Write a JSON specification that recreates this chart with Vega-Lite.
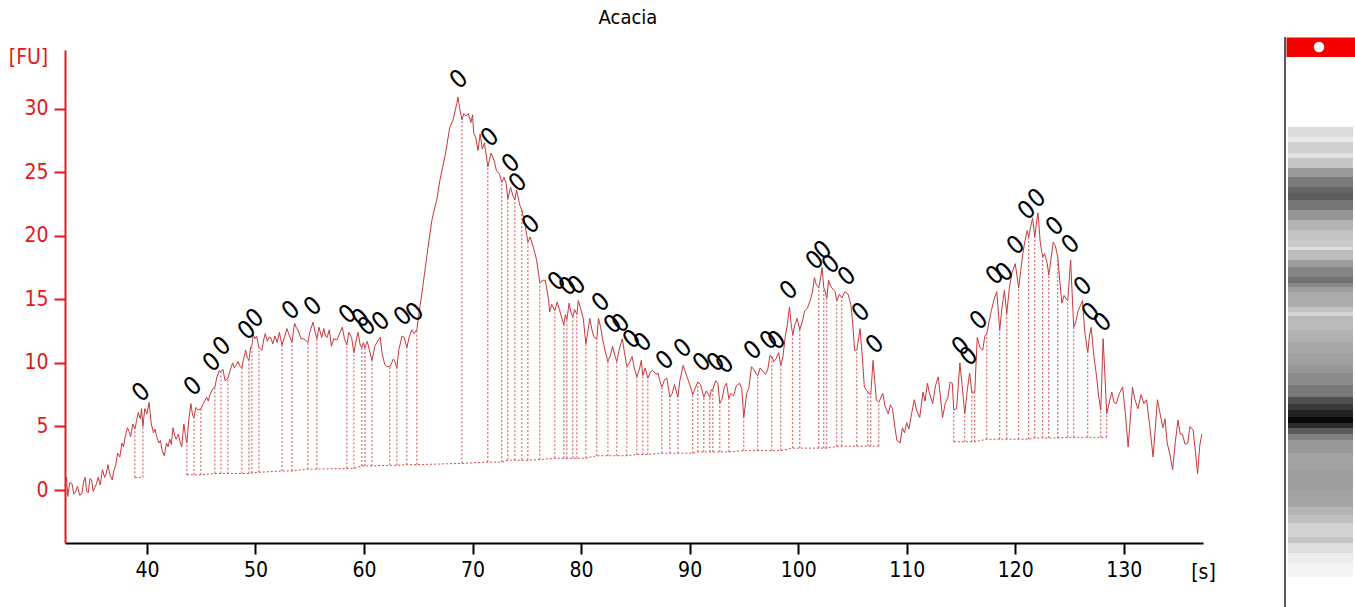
{
"$schema": "https://vega.github.io/schema/vega-lite/v6.json",
"padding": {"left": 8, "top": 8, "right": 0, "bottom": 0},
"background": "white",
"config": {
  "view": {"stroke": null},
  "axisX": {"domainColor": "black", "domainWidth": 2, "tickColor": "black", "tickWidth": 2, "tickSize": 11, "labelColor": "black", "labelFont": "DejaVu Sans Condensed, DejaVu Sans", "labelFontSize": 21, "labelPadding": 5, "tickCount": 10, "grid": false, "titleFont": "DejaVu Sans Condensed, DejaVu Sans", "titleFontSize": 21, "titleFontWeight": "normal", "titleColor": "black", "titleX": 1138, "titleY": 29, "titleAlign": "center", "titleBaseline": "middle"},
  "axisY": {"domainColor": "#e8161b", "domainWidth": 2, "tickColor": "#e8161b", "tickWidth": 2, "tickSize": 11, "labelColor": "#e8161b", "labelFont": "DejaVu Sans Condensed, DejaVu Sans", "labelFontSize": 21, "labelPadding": 6, "tickCount": 7, "grid": false, "titleFont": "DejaVu Sans Condensed, DejaVu Sans", "titleFontSize": 21, "titleFontWeight": "normal", "titleColor": "#e8161b", "titleAngle": 0, "titleX": -37, "titleY": 7, "titleAlign": "center", "titleBaseline": "middle"}
},
"datasets": {
"signal": [
{"t":32.45,"fu":0.3},{"t":32.6,"fu":1.0},{"t":32.7,"fu":-0.5},{"t":32.9,"fu":0.6},{"t":33.1,"fu":0.5},{"t":33.25,"fu":-0.3},{"t":33.4,"fu":-0.2},{"t":33.6,"fu":0.3},{"t":33.8,"fu":-0.4},{"t":34.0,"fu":-0.3},{"t":34.15,"fu":0.6},{"t":34.3,"fu":1.0},{"t":34.45,"fu":-0.1},{"t":34.6,"fu":-0.2},{"t":34.75,"fu":0.9},{"t":34.9,"fu":0.8},{"t":35.05,"fu":-0.1},{"t":35.2,"fu":0.2},{"t":35.35,"fu":0.5},{"t":35.5,"fu":1.0},{"t":35.7,"fu":0.4},{"t":35.9,"fu":1.6},{"t":36.1,"fu":1.0},{"t":36.25,"fu":1.3},{"t":36.4,"fu":2.0},{"t":36.6,"fu":1.2},{"t":36.8,"fu":0.8},{"t":36.95,"fu":1.5},{"t":37.1,"fu":1.9},{"t":37.3,"fu":2.9},{"t":37.5,"fu":2.6},{"t":37.7,"fu":3.7},{"t":37.85,"fu":3.4},{"t":38.0,"fu":4.2},{"t":38.2,"fu":4.9},{"t":38.35,"fu":4.6},{"t":38.5,"fu":4.2},{"t":38.7,"fu":5.2},{"t":38.89,"fu":4.8},{"t":39.05,"fu":5.5},{"t":39.2,"fu":6.1},{"t":39.4,"fu":5.6},{"t":39.5,"fu":6.4},{"t":39.63,"fu":5.0},{"t":39.8,"fu":6.4},{"t":40.0,"fu":6.0},{"t":40.2,"fu":6.9},{"t":40.4,"fu":5.2},{"t":40.6,"fu":4.5},{"t":40.75,"fu":4.8},{"t":40.9,"fu":4.2},{"t":41.1,"fu":3.7},{"t":41.25,"fu":3.9},{"t":41.4,"fu":3.1},{"t":41.6,"fu":2.7},{"t":41.8,"fu":3.7},{"t":41.95,"fu":3.4},{"t":42.1,"fu":4.0},{"t":42.25,"fu":3.6},{"t":42.4,"fu":4.9},{"t":42.55,"fu":4.3},{"t":42.7,"fu":4.0},{"t":42.9,"fu":4.4},{"t":43.05,"fu":3.8},{"t":43.2,"fu":3.4},{"t":43.4,"fu":5.2},{"t":43.55,"fu":4.3},{"t":43.68,"fu":3.7},{"t":43.85,"fu":5.5},{"t":44.05,"fu":6.8},{"t":44.2,"fu":5.9},{"t":44.33,"fu":5.7},{"t":44.5,"fu":6.5},{"t":44.7,"fu":6.3},{"t":44.97,"fu":6.4},{"t":45.2,"fu":6.8},{"t":45.5,"fu":7.3},{"t":45.65,"fu":7.0},{"t":45.8,"fu":7.5},{"t":46.1,"fu":8.0},{"t":46.26,"fu":8.1},{"t":46.45,"fu":8.9},{"t":46.65,"fu":9.4},{"t":46.82,"fu":9.3},{"t":47.0,"fu":9.5},{"t":47.2,"fu":8.6},{"t":47.46,"fu":8.8},{"t":47.7,"fu":9.5},{"t":47.9,"fu":10.0},{"t":48.05,"fu":9.6},{"t":48.2,"fu":9.8},{"t":48.4,"fu":10.1},{"t":48.6,"fu":9.7},{"t":48.75,"fu":9.6},{"t":48.9,"fu":10.3},{"t":49.1,"fu":11.0},{"t":49.25,"fu":10.4},{"t":49.4,"fu":10.2},{"t":49.55,"fu":11.2},{"t":49.67,"fu":11.4},{"t":49.8,"fu":12.2},{"t":49.95,"fu":11.9},{"t":50.1,"fu":12.1},{"t":50.32,"fu":11.2},{"t":50.6,"fu":11.0},{"t":50.75,"fu":11.8},{"t":50.9,"fu":12.3},{"t":51.1,"fu":11.7},{"t":51.25,"fu":12.0},{"t":51.4,"fu":12.0},{"t":51.6,"fu":11.5},{"t":51.8,"fu":12.1},{"t":52.0,"fu":11.6},{"t":52.2,"fu":12.4},{"t":52.44,"fu":11.4},{"t":52.7,"fu":12.1},{"t":52.9,"fu":12.7},{"t":53.1,"fu":12.2},{"t":53.36,"fu":11.6},{"t":53.6,"fu":13.1},{"t":53.75,"fu":12.8},{"t":53.9,"fu":12.6},{"t":54.2,"fu":11.9},{"t":54.4,"fu":11.9},{"t":54.6,"fu":11.8},{"t":54.83,"fu":11.6},{"t":55.0,"fu":12.4},{"t":55.3,"fu":13.2},{"t":55.5,"fu":12.4},{"t":55.66,"fu":11.9},{"t":55.85,"fu":12.8},{"t":56.1,"fu":12.0},{"t":56.3,"fu":12.7},{"t":56.45,"fu":12.1},{"t":56.6,"fu":12.0},{"t":56.8,"fu":12.6},{"t":57.0,"fu":11.3},{"t":57.2,"fu":11.9},{"t":57.5,"fu":11.8},{"t":57.8,"fu":12.4},{"t":58.0,"fu":12.8},{"t":58.2,"fu":11.9},{"t":58.42,"fu":11.4},{"t":58.6,"fu":12.4},{"t":58.85,"fu":12.0},{"t":59.07,"fu":10.8},{"t":59.3,"fu":11.9},{"t":59.45,"fu":12.4},{"t":59.65,"fu":11.4},{"t":59.8,"fu":11.2},{"t":59.95,"fu":11.6},{"t":60.08,"fu":11.2},{"t":60.3,"fu":11.7},{"t":60.5,"fu":11.0},{"t":60.73,"fu":10.2},{"t":61.0,"fu":11.3},{"t":61.3,"fu":11.8},{"t":61.5,"fu":12.0},{"t":61.65,"fu":10.8},{"t":61.9,"fu":9.9},{"t":62.1,"fu":9.7},{"t":62.38,"fu":9.7},{"t":62.55,"fu":10.0},{"t":62.7,"fu":10.3},{"t":62.85,"fu":10.1},{"t":63.03,"fu":9.6},{"t":63.2,"fu":11.0},{"t":63.5,"fu":12.1},{"t":63.7,"fu":12.0},{"t":63.95,"fu":11.2},{"t":64.15,"fu":12.0},{"t":64.4,"fu":12.6},{"t":64.6,"fu":12.3},{"t":64.87,"fu":12.6},{"t":65.15,"fu":14.4},{"t":65.4,"fu":15.9},{"t":65.9,"fu":19.1},{"t":66.25,"fu":21.2},{"t":66.4,"fu":21.8},{"t":66.7,"fu":22.8},{"t":67.0,"fu":24.4},{"t":67.45,"fu":26.2},{"t":67.9,"fu":28.5},{"t":68.2,"fu":29.1},{"t":68.55,"fu":30.4},{"t":68.65,"fu":30.9},{"t":68.8,"fu":30.1},{"t":69.02,"fu":29.1},{"t":69.2,"fu":29.6},{"t":69.4,"fu":29.4},{"t":69.6,"fu":29.6},{"t":69.85,"fu":28.9},{"t":70.0,"fu":29.5},{"t":70.1,"fu":28.1},{"t":70.3,"fu":27.7},{"t":70.5,"fu":26.7},{"t":70.7,"fu":28.0},{"t":70.9,"fu":26.8},{"t":71.1,"fu":27.3},{"t":71.41,"fu":25.4},{"t":71.7,"fu":26.5},{"t":72.0,"fu":25.9},{"t":72.2,"fu":25.1},{"t":72.45,"fu":24.9},{"t":72.7,"fu":24.2},{"t":72.9,"fu":24.6},{"t":73.1,"fu":24.1},{"t":73.25,"fu":22.9},{"t":73.5,"fu":23.8},{"t":73.7,"fu":23.2},{"t":73.9,"fu":22.8},{"t":74.05,"fu":23.6},{"t":74.2,"fu":23.0},{"t":74.35,"fu":22.4},{"t":74.54,"fu":22.0},{"t":74.8,"fu":21.0},{"t":75.1,"fu":19.5},{"t":75.3,"fu":19.9},{"t":75.6,"fu":19.1},{"t":75.9,"fu":18.1},{"t":76.2,"fu":16.3},{"t":76.5,"fu":16.5},{"t":76.7,"fu":16.5},{"t":77.0,"fu":15.0},{"t":77.1,"fu":14.0},{"t":77.3,"fu":14.6},{"t":77.58,"fu":14.1},{"t":77.8,"fu":14.8},{"t":78.0,"fu":14.2},{"t":78.2,"fu":13.6},{"t":78.41,"fu":13.0},{"t":78.55,"fu":13.8},{"t":78.69,"fu":13.4},{"t":78.9,"fu":14.7},{"t":79.05,"fu":14.0},{"t":79.24,"fu":13.6},{"t":79.4,"fu":14.2},{"t":79.61,"fu":13.8},{"t":79.75,"fu":14.9},{"t":79.95,"fu":14.3},{"t":80.2,"fu":13.5},{"t":80.44,"fu":11.5},{"t":80.65,"fu":12.6},{"t":80.8,"fu":13.5},{"t":81.0,"fu":12.6},{"t":81.2,"fu":12.0},{"t":81.45,"fu":11.9},{"t":81.6,"fu":13.5},{"t":81.8,"fu":12.8},{"t":82.0,"fu":11.8},{"t":82.2,"fu":11.0},{"t":82.47,"fu":10.1},{"t":82.7,"fu":10.6},{"t":82.9,"fu":11.3},{"t":83.1,"fu":10.6},{"t":83.29,"fu":10.1},{"t":83.5,"fu":11.0},{"t":83.8,"fu":11.9},{"t":84.0,"fu":10.8},{"t":84.22,"fu":9.7},{"t":84.45,"fu":10.0},{"t":84.7,"fu":10.5},{"t":84.9,"fu":9.6},{"t":85.14,"fu":8.9},{"t":85.4,"fu":9.6},{"t":85.55,"fu":10.2},{"t":85.69,"fu":9.0},{"t":85.9,"fu":9.6},{"t":86.15,"fu":8.8},{"t":86.4,"fu":9.3},{"t":86.6,"fu":9.4},{"t":86.9,"fu":9.1},{"t":87.1,"fu":9.2},{"t":87.25,"fu":8.6},{"t":87.44,"fu":8.1},{"t":87.7,"fu":8.7},{"t":87.9,"fu":8.8},{"t":88.18,"fu":7.3},{"t":88.4,"fu":7.6},{"t":88.6,"fu":8.3},{"t":88.92,"fu":7.3},{"t":89.1,"fu":8.6},{"t":89.4,"fu":9.8},{"t":89.6,"fu":9.3},{"t":89.8,"fu":8.8},{"t":90.05,"fu":8.2},{"t":90.29,"fu":7.5},{"t":90.5,"fu":8.0},{"t":90.76,"fu":8.5},{"t":91.0,"fu":8.3},{"t":91.31,"fu":7.3},{"t":91.55,"fu":7.8},{"t":91.86,"fu":7.3},{"t":92.0,"fu":7.9},{"t":92.14,"fu":7.9},{"t":92.4,"fu":8.6},{"t":92.6,"fu":8.4},{"t":92.78,"fu":6.8},{"t":93.0,"fu":7.2},{"t":93.2,"fu":8.1},{"t":93.4,"fu":8.4},{"t":93.61,"fu":7.2},{"t":93.8,"fu":7.6},{"t":94.05,"fu":7.4},{"t":94.3,"fu":8.2},{"t":94.6,"fu":8.4},{"t":94.8,"fu":8.0},{"t":94.99,"fu":5.7},{"t":95.25,"fu":7.6},{"t":95.45,"fu":8.0},{"t":95.7,"fu":9.7},{"t":95.9,"fu":9.5},{"t":96.1,"fu":9.2},{"t":96.28,"fu":9.0},{"t":96.5,"fu":9.6},{"t":96.7,"fu":9.4},{"t":97.0,"fu":9.1},{"t":97.2,"fu":9.5},{"t":97.4,"fu":10.6},{"t":97.57,"fu":10.5},{"t":97.75,"fu":10.1},{"t":97.95,"fu":10.3},{"t":98.2,"fu":10.8},{"t":98.4,"fu":9.8},{"t":98.6,"fu":10.5},{"t":98.8,"fu":12.0},{"t":99.0,"fu":13.0},{"t":99.2,"fu":14.4},{"t":99.35,"fu":13.1},{"t":99.5,"fu":12.2},{"t":99.7,"fu":13.0},{"t":99.9,"fu":13.5},{"t":100.15,"fu":12.6},{"t":100.4,"fu":13.3},{"t":100.6,"fu":14.1},{"t":100.85,"fu":14.3},{"t":101.1,"fu":14.9},{"t":101.3,"fu":15.5},{"t":101.5,"fu":16.7},{"t":101.65,"fu":16.2},{"t":101.9,"fu":15.9},{"t":102.05,"fu":16.6},{"t":102.2,"fu":17.5},{"t":102.36,"fu":15.9},{"t":102.5,"fu":15.6},{"t":102.64,"fu":15.1},{"t":102.8,"fu":16.5},{"t":103.0,"fu":16.0},{"t":103.2,"fu":15.8},{"t":103.4,"fu":15.6},{"t":103.56,"fu":14.9},{"t":103.8,"fu":15.4},{"t":104.02,"fu":15.1},{"t":104.3,"fu":15.6},{"t":104.6,"fu":15.4},{"t":104.85,"fu":14.6},{"t":105.0,"fu":13.4},{"t":105.2,"fu":11.0},{"t":105.4,"fu":11.0},{"t":105.7,"fu":12.7},{"t":105.9,"fu":10.6},{"t":106.1,"fu":8.1},{"t":106.42,"fu":7.7},{"t":106.69,"fu":7.5},{"t":106.9,"fu":10.2},{"t":107.2,"fu":7.1},{"t":107.43,"fu":6.9},{"t":107.8,"fu":7.6},{"t":108.0,"fu":6.6},{"t":108.3,"fu":6.0},{"t":108.5,"fu":6.7},{"t":108.7,"fu":6.4},{"t":108.9,"fu":5.0},{"t":109.1,"fu":3.9},{"t":109.4,"fu":3.7},{"t":109.6,"fu":4.9},{"t":109.8,"fu":4.5},{"t":110.0,"fu":5.3},{"t":110.2,"fu":4.8},{"t":110.45,"fu":6.0},{"t":110.7,"fu":7.1},{"t":110.9,"fu":6.3},{"t":111.2,"fu":5.7},{"t":111.5,"fu":7.7},{"t":111.7,"fu":7.0},{"t":111.9,"fu":8.4},{"t":112.1,"fu":7.6},{"t":112.4,"fu":6.8},{"t":112.65,"fu":8.2},{"t":112.9,"fu":8.9},{"t":113.1,"fu":7.4},{"t":113.3,"fu":5.7},{"t":113.55,"fu":6.8},{"t":113.8,"fu":7.3},{"t":114.0,"fu":8.5},{"t":114.2,"fu":8.4},{"t":114.34,"fu":6.3},{"t":114.6,"fu":6.4},{"t":114.9,"fu":10.0},{"t":115.1,"fu":8.3},{"t":115.35,"fu":6.0},{"t":115.6,"fu":8.0},{"t":115.8,"fu":9.2},{"t":116.0,"fu":7.7},{"t":116.27,"fu":7.7},{"t":116.5,"fu":12.0},{"t":116.75,"fu":11.2},{"t":117.0,"fu":11.0},{"t":117.2,"fu":12.1},{"t":117.38,"fu":12.3},{"t":117.6,"fu":13.3},{"t":117.8,"fu":14.1},{"t":118.05,"fu":15.0},{"t":118.3,"fu":15.6},{"t":118.57,"fu":12.6},{"t":118.8,"fu":14.5},{"t":119.0,"fu":15.7},{"t":119.22,"fu":13.9},{"t":119.45,"fu":15.8},{"t":119.7,"fu":17.1},{"t":120.0,"fu":17.8},{"t":120.32,"fu":15.9},{"t":120.5,"fu":17.2},{"t":120.7,"fu":18.6},{"t":120.9,"fu":19.6},{"t":121.1,"fu":20.4},{"t":121.24,"fu":19.9},{"t":121.4,"fu":20.6},{"t":121.6,"fu":21.4},{"t":121.8,"fu":19.9},{"t":122.0,"fu":21.3},{"t":122.1,"fu":21.8},{"t":122.3,"fu":19.5},{"t":122.53,"fu":18.3},{"t":122.7,"fu":18.6},{"t":122.95,"fu":17.8},{"t":123.09,"fu":16.9},{"t":123.3,"fu":18.2},{"t":123.5,"fu":19.5},{"t":123.7,"fu":19.2},{"t":123.92,"fu":18.3},{"t":124.1,"fu":16.5},{"t":124.3,"fu":14.7},{"t":124.5,"fu":15.3},{"t":124.7,"fu":15.0},{"t":124.84,"fu":14.9},{"t":125.1,"fu":18.1},{"t":125.39,"fu":12.8},{"t":125.6,"fu":13.3},{"t":125.8,"fu":14.1},{"t":126.0,"fu":14.5},{"t":126.2,"fu":14.9},{"t":126.4,"fu":12.5},{"t":126.68,"fu":10.8},{"t":126.85,"fu":12.2},{"t":127.0,"fu":12.8},{"t":127.25,"fu":10.5},{"t":127.5,"fu":8.9},{"t":127.7,"fu":7.3},{"t":127.88,"fu":6.3},{"t":128.1,"fu":11.9},{"t":128.43,"fu":6.0},{"t":128.7,"fu":7.0},{"t":128.9,"fu":7.7},{"t":129.1,"fu":6.9},{"t":129.3,"fu":6.8},{"t":129.6,"fu":7.6},{"t":129.9,"fu":8.1},{"t":130.15,"fu":6.0},{"t":130.4,"fu":3.4},{"t":130.6,"fu":5.5},{"t":130.8,"fu":8.1},{"t":131.0,"fu":7.2},{"t":131.3,"fu":6.4},{"t":131.6,"fu":7.5},{"t":131.85,"fu":6.8},{"t":132.1,"fu":7.1},{"t":132.4,"fu":5.0},{"t":132.7,"fu":2.6},{"t":132.9,"fu":4.8},{"t":133.1,"fu":7.1},{"t":133.35,"fu":6.0},{"t":133.6,"fu":4.9},{"t":133.8,"fu":5.6},{"t":134.0,"fu":3.7},{"t":134.25,"fu":2.8},{"t":134.5,"fu":1.6},{"t":134.75,"fu":3.8},{"t":135.0,"fu":5.5},{"t":135.2,"fu":4.4},{"t":135.4,"fu":4.4},{"t":135.65,"fu":3.6},{"t":135.9,"fu":3.7},{"t":136.1,"fu":5.0},{"t":136.4,"fu":4.7},{"t":136.6,"fu":3.0},{"t":136.8,"fu":1.3},{"t":137.0,"fu":3.5},{"t":137.2,"fu":4.4}
],
"bounds": [
{"t":38.89,"top":4.8,"bot":1.0,"seg":"A"},{"t":39.63,"top":5.0,"bot":1.0,"seg":"A"},
{"t":43.68,"top":3.7,"bot":1.2,"seg":"B"},{"t":44.33,"top":5.7,"bot":1.2,"seg":"B"},{"t":44.97,"top":6.4,"bot":1.2,"seg":"B"},{"t":46.26,"top":8.1,"bot":1.3,"seg":"B"},{"t":46.82,"top":9.3,"bot":1.3,"seg":"B"},{"t":47.46,"top":8.8,"bot":1.3,"seg":"B"},{"t":48.75,"top":9.6,"bot":1.3,"seg":"B"},{"t":49.4,"top":10.2,"bot":1.3,"seg":"B"},{"t":49.67,"top":11.4,"bot":1.35,"seg":"B"},{"t":50.32,"top":11.2,"bot":1.4,"seg":"B"},{"t":52.44,"top":11.4,"bot":1.5,"seg":"B"},{"t":53.36,"top":11.6,"bot":1.5,"seg":"B"},{"t":54.83,"top":11.6,"bot":1.65,"seg":"B"},{"t":55.66,"top":11.9,"bot":1.65,"seg":"B"},{"t":58.42,"top":11.4,"bot":1.7,"seg":"B"},{"t":59.07,"top":10.8,"bot":1.7,"seg":"B"},{"t":59.8,"top":11.2,"bot":1.9,"seg":"B"},{"t":60.08,"top":11.2,"bot":1.9,"seg":"B"},{"t":60.73,"top":10.2,"bot":1.9,"seg":"B"},{"t":62.38,"top":9.7,"bot":1.95,"seg":"B"},{"t":63.03,"top":9.6,"bot":1.95,"seg":"B"},{"t":63.95,"top":11.2,"bot":2.0,"seg":"B"},{"t":64.87,"top":12.6,"bot":2.0,"seg":"B"},{"t":69.02,"top":29.1,"bot":2.1,"seg":"B"},{"t":71.41,"top":25.4,"bot":2.2,"seg":"B"},{"t":72.7,"top":24.2,"bot":2.2,"seg":"B"},{"t":73.25,"top":22.9,"bot":2.35,"seg":"B"},{"t":73.9,"top":22.8,"bot":2.35,"seg":"B"},{"t":74.54,"top":22.0,"bot":2.35,"seg":"B"},{"t":75.1,"top":19.5,"bot":2.35,"seg":"B"},{"t":76.2,"top":16.3,"bot":2.4,"seg":"B"},{"t":77.58,"top":14.1,"bot":2.5,"seg":"B"},{"t":78.41,"top":13.0,"bot":2.5,"seg":"B"},{"t":78.69,"top":13.4,"bot":2.5,"seg":"B"},{"t":79.24,"top":13.6,"bot":2.5,"seg":"B"},{"t":79.61,"top":13.8,"bot":2.5,"seg":"B"},{"t":80.44,"top":11.5,"bot":2.5,"seg":"B"},{"t":81.45,"top":11.9,"bot":2.7,"seg":"B"},{"t":82.47,"top":10.1,"bot":2.7,"seg":"B"},{"t":83.29,"top":10.1,"bot":2.7,"seg":"B"},{"t":84.22,"top":9.7,"bot":2.7,"seg":"B"},{"t":85.14,"top":8.9,"bot":2.8,"seg":"B"},{"t":85.69,"top":9.0,"bot":2.8,"seg":"B"},{"t":86.15,"top":8.8,"bot":2.8,"seg":"B"},{"t":87.44,"top":8.1,"bot":2.9,"seg":"B"},{"t":88.18,"top":7.3,"bot":2.9,"seg":"B"},{"t":88.92,"top":7.3,"bot":2.9,"seg":"B"},{"t":90.29,"top":7.5,"bot":2.9,"seg":"B"},{"t":90.76,"top":8.5,"bot":3.0,"seg":"B"},{"t":91.31,"top":7.3,"bot":3.0,"seg":"B"},{"t":91.86,"top":7.3,"bot":3.0,"seg":"B"},{"t":92.14,"top":7.9,"bot":3.0,"seg":"B"},{"t":92.78,"top":6.8,"bot":3.0,"seg":"B"},{"t":93.61,"top":7.2,"bot":3.0,"seg":"B"},{"t":94.99,"top":5.7,"bot":3.1,"seg":"B"},{"t":96.28,"top":9.0,"bot":3.1,"seg":"B"},{"t":97.57,"top":10.5,"bot":3.1,"seg":"B"},{"t":98.4,"top":9.8,"bot":3.1,"seg":"B"},{"t":99.5,"top":12.2,"bot":3.3,"seg":"B"},{"t":100.15,"top":12.6,"bot":3.3,"seg":"B"},{"t":101.9,"top":15.9,"bot":3.3,"seg":"B"},{"t":102.36,"top":15.9,"bot":3.3,"seg":"B"},{"t":102.64,"top":15.1,"bot":3.3,"seg":"B"},{"t":103.56,"top":14.9,"bot":3.45,"seg":"B"},{"t":104.02,"top":15.1,"bot":3.45,"seg":"B"},{"t":105.4,"top":11.0,"bot":3.45,"seg":"B"},{"t":106.42,"top":7.7,"bot":3.45,"seg":"B"},{"t":106.69,"top":7.5,"bot":3.45,"seg":"B"},{"t":107.43,"top":6.9,"bot":3.45,"seg":"B"},
{"t":114.34,"top":6.3,"bot":3.8,"seg":"C"},{"t":115.35,"top":6.0,"bot":3.8,"seg":"C"},{"t":116.0,"top":7.7,"bot":3.8,"seg":"C"},{"t":116.27,"top":7.7,"bot":3.8,"seg":"C"},{"t":117.38,"top":12.3,"bot":4.0,"seg":"C"},{"t":118.57,"top":12.6,"bot":4.0,"seg":"C"},{"t":119.22,"top":13.9,"bot":4.0,"seg":"C"},{"t":120.32,"top":15.9,"bot":4.0,"seg":"C"},{"t":121.24,"top":19.9,"bot":4.0,"seg":"C"},{"t":121.8,"top":19.9,"bot":4.1,"seg":"C"},{"t":122.53,"top":18.3,"bot":4.1,"seg":"C"},{"t":123.09,"top":16.9,"bot":4.1,"seg":"C"},{"t":123.92,"top":18.3,"bot":4.1,"seg":"C"},{"t":124.84,"top":14.9,"bot":4.15,"seg":"C"},{"t":125.39,"top":12.8,"bot":4.15,"seg":"C"},{"t":126.68,"top":10.8,"bot":4.15,"seg":"C"},{"t":127.88,"top":6.3,"bot":4.15,"seg":"C"},{"t":128.43,"top":6.0,"bot":4.15,"seg":"C"}
],
"peaks": [
{"t":39.45,"fu":7.7},{"t":44.24,"fu":8.17},{"t":45.99,"fu":10.05},{"t":46.91,"fu":11.31},{"t":49.21,"fu":12.57},{"t":49.95,"fu":13.51},{"t":53.26,"fu":14.14},{"t":55.29,"fu":14.45},{"t":58.52,"fu":13.83},{"t":59.71,"fu":13.51},{"t":60.27,"fu":12.88},{"t":61.55,"fu":13.28},{"t":63.58,"fu":13.67},{"t":64.69,"fu":13.98},{"t":68.74,"fu":32.29},{"t":71.6,"fu":27.73},{"t":73.53,"fu":25.69},{"t":74.17,"fu":24.19},{"t":75.37,"fu":20.9},{"t":77.77,"fu":16.42},{"t":78.78,"fu":16.03},{"t":79.61,"fu":16.1},{"t":81.82,"fu":14.77},{"t":82.93,"fu":13.04},{"t":83.66,"fu":13.12},{"t":84.68,"fu":11.86},{"t":85.69,"fu":11.63},{"t":87.72,"fu":10.21},{"t":89.37,"fu":11.15},{"t":91.12,"fu":10.05},{"t":92.41,"fu":10.05},{"t":93.24,"fu":9.9},{"t":95.82,"fu":11.0},{"t":97.3,"fu":11.78},{"t":98.03,"fu":11.78},{"t":99.14,"fu":15.71},{"t":101.53,"fu":18.07},{"t":102.27,"fu":18.85},{"t":103.0,"fu":17.75},{"t":104.48,"fu":16.81},{"t":105.77,"fu":13.98},{"t":107.06,"fu":11.47},{"t":114.98,"fu":11.31},{"t":115.72,"fu":10.53},{"t":116.64,"fu":13.35},{"t":118.11,"fu":16.89},{"t":119.03,"fu":17.13},{"t":120.05,"fu":19.25},{"t":121.06,"fu":22.0},{"t":121.98,"fu":22.94},{"t":123.64,"fu":20.74},{"t":125.11,"fu":19.32},{"t":126.22,"fu":16.03},{"t":126.96,"fu":13.98},{"t":128.06,"fu":13.2}
],
"gel": [
{"from":15.79,"to":17.54,"shade":"#dcdcdc"},{"from":17.54,"to":18.42,"shade":"#e9e9e9"},{"from":18.42,"to":20.35,"shade":"#cfcfcf"},{"from":20.35,"to":21.23,"shade":"#e2e2e2"},{"from":21.23,"to":22.98,"shade":"#c6c6c6"},{"from":22.98,"to":24.56,"shade":"#9a9a9a"},{"from":24.56,"to":26.32,"shade":"#7a7a7a"},{"from":26.32,"to":27.37,"shade":"#666666"},{"from":27.37,"to":28.6,"shade":"#5e5e5e"},{"from":28.6,"to":30.35,"shade":"#747474"},{"from":30.35,"to":32.11,"shade":"#959595"},{"from":32.11,"to":33.86,"shade":"#b4b4b4"},{"from":33.86,"to":35.61,"shade":"#c4c4c4"},{"from":35.61,"to":36.84,"shade":"#cbcbcb"},{"from":36.84,"to":37.37,"shade":"#dedede"},{"from":37.37,"to":39.12,"shade":"#bdbdbd"},{"from":39.12,"to":40.35,"shade":"#9c9c9c"},{"from":40.35,"to":42.11,"shade":"#848484"},{"from":42.11,"to":43.16,"shade":"#727272"},{"from":43.16,"to":43.86,"shade":"#888888"},{"from":43.86,"to":44.74,"shade":"#9d9d9d"},{"from":44.74,"to":47.37,"shade":"#ababab"},{"from":47.37,"to":48.25,"shade":"#c2c2c2"},{"from":48.25,"to":48.95,"shade":"#d6d6d6"},{"from":48.95,"to":51.4,"shade":"#bababa"},{"from":51.4,"to":53.51,"shade":"#b2b2b2"},{"from":53.51,"to":55.44,"shade":"#a8a8a8"},{"from":55.44,"to":57.54,"shade":"#a0a0a0"},{"from":57.54,"to":58.95,"shade":"#989898"},{"from":58.95,"to":61.05,"shade":"#8c8c8c"},{"from":61.05,"to":63.16,"shade":"#7a7a7a"},{"from":63.16,"to":64.39,"shade":"#505050"},{"from":64.39,"to":65.44,"shade":"#383838"},{"from":65.44,"to":66.67,"shade":"#222222"},{"from":66.67,"to":67.72,"shade":"#080808"},{"from":67.72,"to":68.6,"shade":"#2a2a2a"},{"from":68.6,"to":69.65,"shade":"#5a5a5a"},{"from":69.65,"to":70.7,"shade":"#808080"},{"from":70.7,"to":72.98,"shade":"#989898"},{"from":72.98,"to":75.96,"shade":"#a2a2a2"},{"from":75.96,"to":79.47,"shade":"#9e9e9e"},{"from":79.47,"to":82.46,"shade":"#a4a4a4"},{"from":82.46,"to":83.86,"shade":"#b4b4b4"},{"from":83.86,"to":85.26,"shade":"#c0c0c0"},{"from":85.26,"to":87.72,"shade":"#d2d2d2"},{"from":87.72,"to":88.77,"shade":"#c4c4c4"},{"from":88.77,"to":90.53,"shade":"#dddddd"},{"from":90.53,"to":92.28,"shade":"#ececec"},{"from":92.28,"to":94.74,"shade":"#f4f4f4"}
],
"marker": [{"from":0.1,"to":3.5,"mid":1.75}]
},
"hconcat": [
{
  "width": 1138,
  "height": 493,
  "title": {"text": "Acacia", "font": "DejaVu Sans Condensed, DejaVu Sans", "fontSize": 20, "fontWeight": "normal", "color": "black", "offset": 18, "dx": -6},
  "layer": [
    {
      "data": {"name": "bounds"},
      "mark": {"type": "line", "color": "#d24a4a", "strokeWidth": 1, "strokeDash": [2, 2]},
      "encoding": {
        "x": {"field": "t", "type": "quantitative", "scale": {"domain": [32.45, 137.3], "nice": false, "zero": false}, "title": "[s]"},
        "y": {"field": "bot", "type": "quantitative", "scale": {"domain": [-4.16, 34.6], "nice": false, "zero": false}, "title": "[FU]"},
        "detail": {"field": "seg", "type": "nominal"}
      }
    },
    {
      "data": {"name": "bounds"},
      "mark": {"type": "rule", "color": "#d24a4a", "strokeWidth": 1, "strokeDash": [2, 2]},
      "encoding": {
        "x": {"field": "t", "type": "quantitative", "scale": {"domain": [32.45, 137.3], "nice": false, "zero": false}, "title": "[s]"},
        "y": {"field": "bot", "type": "quantitative", "scale": {"domain": [-4.16, 34.6], "nice": false, "zero": false}, "title": "[FU]"},
        "y2": {"field": "top"}
      }
    },
    {
      "data": {"name": "signal"},
      "mark": {"type": "line", "color": "#c8373a", "strokeWidth": 1},
      "encoding": {
        "x": {"field": "t", "type": "quantitative", "scale": {"domain": [32.45, 137.3], "nice": false, "zero": false}, "title": "[s]"},
        "y": {"field": "fu", "type": "quantitative", "scale": {"domain": [-4.16, 34.6], "nice": false, "zero": false}, "title": "[FU]"}
      }
    },
    {
      "data": {"name": "peaks"},
      "mark": {"type": "text", "text": "0", "angle": -40, "font": "DejaVu Sans Condensed, DejaVu Sans", "fontSize": 25, "color": "black", "align": "center", "baseline": "middle"},
      "encoding": {
        "x": {"field": "t", "type": "quantitative", "scale": {"domain": [32.45, 137.3], "nice": false, "zero": false}, "title": "[s]"},
        "y": {"field": "fu", "type": "quantitative", "scale": {"domain": [-4.16, 34.6], "nice": false, "zero": false}, "title": "[FU]"}
      }
    }
  ]
},
{
  "width": 70,
  "height": 493,
  "layer": [
    {
      "data": {"name": "gel"},
      "mark": {"type": "rect"},
      "encoding": {
        "x": {"datum": 3, "type": "quantitative", "scale": {"domain": [0, 70], "nice": false, "zero": false}, "axis": null},
        "x2": {"datum": 68},
        "y": {"field": "from", "type": "quantitative", "scale": {"domain": [0, 100], "range": [-13, 557], "nice": false, "zero": false}, "axis": null},
        "y2": {"field": "to"},
        "color": {"field": "shade", "type": "nominal", "scale": null}
      }
    },
    {
      "data": {"name": "marker"},
      "mark": {"type": "rect", "color": "#f20000"},
      "encoding": {
        "x": {"datum": 1.5, "type": "quantitative", "scale": {"domain": [0, 70], "nice": false, "zero": false}, "axis": null},
        "x2": {"datum": 70},
        "y": {"field": "from", "type": "quantitative", "scale": {"domain": [0, 100], "range": [-13, 557], "nice": false, "zero": false}, "axis": null},
        "y2": {"field": "to"}
      }
    },
    {
      "data": {"name": "marker"},
      "mark": {"type": "point", "shape": "circle", "filled": true, "color": "white", "opacity": 1, "size": 110},
      "encoding": {
        "x": {"datum": 34, "type": "quantitative", "scale": {"domain": [0, 70], "nice": false, "zero": false}, "axis": null},
        "y": {"field": "mid", "type": "quantitative", "scale": {"domain": [0, 100], "range": [-13, 557], "nice": false, "zero": false}, "axis": null}
      }
    },
    {
      "data": {"name": "marker"},
      "mark": {"type": "rule", "color": "#222222", "strokeWidth": 1.5},
      "encoding": {
        "x": {"datum": 0, "type": "quantitative", "scale": {"domain": [0, 70], "nice": false, "zero": false}, "axis": null},
        "y": {"datum": 0, "type": "quantitative", "scale": {"domain": [0, 100], "range": [-13, 557], "nice": false, "zero": false}, "axis": null},
        "y2": {"datum": 100}
      }
    }
  ]
}
],
"spacing": 82,
"bounds": "flush"
}
